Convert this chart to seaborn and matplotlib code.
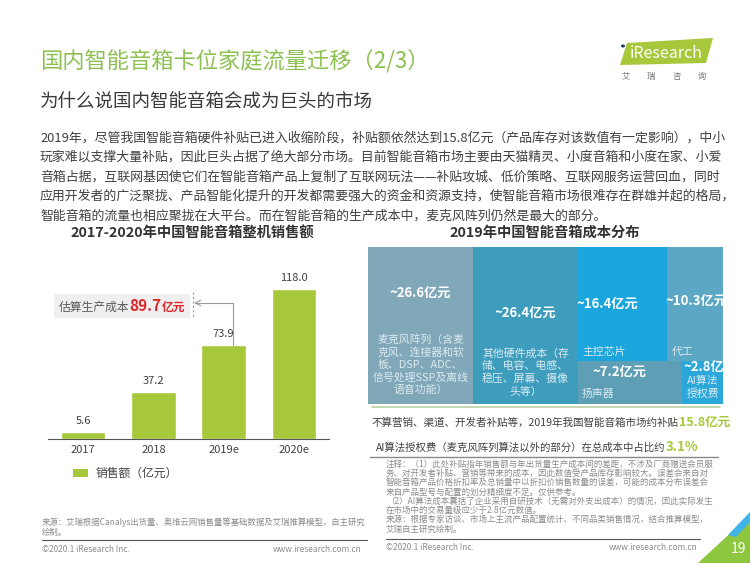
import numpy as np
import pandas as pd
import seaborn as sns
import matplotlib.pyplot as plt
from matplotlib.patches import Rectangle, Polygon

# ---- data ----
years = ["2017", "2018", "2019e", "2020e"]
sales = [5.6, 37.2, 73.9, 118.0]

cost_values = [26.6, 26.4, 16.4, 10.3, 7.2, 2.8]
cost_desc = [
    "麦克风阵列（含麦\n克风、连接器和软\n板、DSP、ADC、\n信号处理SSP及离线\n语音功能）",
    "其他硬件成本（存\n储、电容、电感、\n稳压、屏幕、摄像\n头等）",
    "主控芯片",
    "代工",
    "扬声器",
    "AI算法\n授权费",
]
cost_colors = ["#80a8b9", "#3e9dbd", "#1ba7dd", "#5ba7c4", "#5e9fb6", "#2ba7da"]

production_cost = sum(cost_values)          # 89.7
subsidy = production_cost - sales[2]         # 15.8
ai_share = cost_values[5] / production_cost * 100  # 3.1

paragraph = [
    "2019年，尽管我国智能音箱硬件补贴已进入收缩阶段，补贴额依然达到15.8亿元（产品库存对该数值有一定影响），中小",
    "玩家难以支撑大量补贴，因此巨头占据了绝大部分市场。目前智能音箱市场主要由天猫精灵、小度音箱和小度在家、小爱",
    "音箱占据，互联网基因使它们在智能音箱产品上复制了互联网玩法——补贴攻城、低价策略、互联网服务运营回血，同时",
    "应用开发者的广泛聚拢、产品智能化提升的开发都需要强大的资金和资源支持，使智能音箱市场很难存在群雄并起的格局，",
    "智能音箱的流量也相应聚拢在大平台。而在智能音箱的生产成本中，麦克风阵列仍然是最大的部分。",
]
notes = [
    "注释：（1）此处补贴指年销售额与年出货量生产成本间的差距，不涉及厂商赠送会员服",
    "务、对开发者补贴、营销等带来的成本，因此数值受产品库存影响较大。误差会来自对",
    "智能音箱产品价格折扣率及总销量中以折扣价销售数量的误差，可能的成本分布误差会",
    "来自产品型号与配置的划分精细度不足。仅供参考。",
    "（2）AI算法成本囊括了企业采用自研技术（无需对外支出成本）的情况，因此实际发生",
    "在市场中的交易量级应少于2.8亿元数值。",
    "来源：根据专家访谈、市场上主流产品配置统计、不同品类销售情况，结合推算模型，",
    "艾瑞自主研究绘制。",
]

sns.set_style("white")
plt.rcParams["font.family"] = ["Noto Sans CJK SC", "DejaVu Sans"]

W, H = 750, 563
fig = plt.figure(figsize=(7.5, 5.63), dpi=100)
renderer = fig.canvas.get_renderer()

green = "#8cc152"
lime = "#a6c83a"
dark = "#404040"
grey = "#8c8c8c"


def ftext(x, y, s, **kw):
    return fig.text(x / W, 1 - y / H, s, **kw)


def fline(x0, x1, y, **kw):
    fig.add_artist(plt.Line2D([x0 / W, x1 / W], [1 - y / H, 1 - y / H],
                              transform=fig.transFigure, **kw))


def rich(x, y, parts):
    cur = x
    for s, kw in parts:
        t = ftext(cur, y, s, va="baseline", **kw)
        cur += t.get_window_extent(renderer).width


# ---- header ----
ftext(40, 61, "国内智能音箱卡位家庭流量迁移（2/3）", fontsize=16, color=green, va="center")
ftext(40, 103, "为什么说国内智能音箱会成为巨头的市场", fontsize=13.3, color="#3a3a3a", va="center")

logo = [(627, 43), (713, 38), (706, 63), (620, 65)]
fig.add_artist(Polygon([(px / W, 1 - py / H) for px, py in logo], closed=True,
                       transform=fig.transFigure, color=lime, lw=0))
ftext(666, 53, "iResearch", fontsize=11.5, color="white", ha="center", va="center")
fig.add_artist(plt.Circle((623 / W, 1 - 46 / H), 2 / W, transform=fig.transFigure,
                          color="#1f3a68", lw=0))
for cx, ch in zip(np.linspace(626, 702, 4), "艾瑞咨询"):
    ftext(cx, 76, ch, fontsize=6, color="#777777", ha="center", va="center")

for i, line in enumerate(paragraph):
    ftext(40, 138 + i * 19.5, line, fontsize=9.3, color=dark, va="center")

# ---- left bar chart ----
ftext(192, 233, "2017-2020年中国智能音箱整机销售额", fontsize=10.3, fontweight="bold",
      color="#333333", ha="center", va="center")

ax1 = fig.add_axes([48 / W, 1 - 439 / H, 281 / W, 191 / H])
df = pd.DataFrame({"year": years, "sales": sales})
sns.barplot(data=df, x="year", y="sales", color=lime, saturation=1, width=0.63, ax=ax1)
ax1.set_xlim(-0.5, 3.5)
ax1.set_ylim(0, 150)
ax1.bar_label(ax1.containers[0], fmt="%.1f", padding=4, fontsize=8, color=dark)
sns.despine(ax=ax1, left=True)
ax1.set_yticks([])
ax1.set(xlabel="", ylabel="")
ax1.set_facecolor("none")
ax1.tick_params(axis="x", length=0, labelsize=8, colors=dark, pad=4.5)
ax1.spines["bottom"].set_color("#555555")

# estimated production cost callout
fig.add_artist(Rectangle((54 / W, 1 - 318 / H), 136 / W, 24 / H,
                         transform=fig.transFigure, color="#efefef", lw=0))
fig.add_artist(plt.Line2D([193 / W, 193 / W], [1 - 292 / H, 1 - 318 / H],
                          transform=fig.transFigure, color="#999999", lw=0.8, ls=(0, (2, 2))))
rich(59, 311, [
    ("估算生产成本", dict(fontsize=8.5, color="#595959")),
    (f"{production_cost:.1f}", dict(fontsize=11, color="#e0262b", fontweight="bold")),
    ("亿元", dict(fontsize=8.5, color="#e0262b", fontweight="bold")),
])
ax1.annotate("", xy=(194 / W, 1 - 303 / H), xycoords="figure fraction",
             xytext=(2.13, sales[2]), textcoords="data",
             arrowprops=dict(arrowstyle="->", color="#9a9a9a", lw=0.8, shrinkA=0, shrinkB=0,
                             connectionstyle="angle,angleA=90,angleB=0,rad=0"))

fig.add_artist(Rectangle((73 / W, 1 - 477 / H), 15 / W, 8 / H,
                         transform=fig.transFigure, color=lime, lw=0))
ftext(96, 473, "销售额（亿元）", fontsize=8.5, color=dark, va="center")

# ---- right treemap ----
ftext(545, 233, "2019年中国智能音箱成本分布", fontsize=10.3, fontweight="bold",
      color="#333333", ha="center", va="center")

ax2 = fig.add_axes([368 / W, 1 - 404 / H, 355 / W, 157 / H])
mic, other, chip, oem, spk, ai = cost_values
rest = chip + oem + spk + ai
top_h = (chip + oem) / rest
x_r = mic + other
rects = [
    (0, 0, mic, 1),
    (mic, 0, other, 1),
    (x_r, 0, chip / top_h, top_h),
    (x_r + chip / top_h, 0, oem / top_h, top_h),
    (x_r, top_h, spk / (1 - top_h), 1 - top_h),
    (x_r + spk / (1 - top_h), top_h, ai / (1 - top_h), 1 - top_h),
]
# (value pos x, y, ha), (desc pos x, y, ha)
value_pos = [(0.5, 0.29, "center"), (0.5, 0.42, "center"), (-0.01, 0.50, "left"),
             (-0.02, 0.47, "left"), (0.14, 0.25, "left"), (0.02, 0.14, "left")]
desc_pos = [(0.5, 0.75, "center"), (0.5, 0.80, "center"), (0.05, 0.92, "left"),
            (0.09, 0.92, "left"), (0.04, 0.77, "left"), (0.5, 0.62, "center")]

for (x0, y0, w, h), c, v, d, vp, dp in zip(rects, cost_colors, cost_values, cost_desc,
                                            value_pos, desc_pos):
    ax2.add_patch(Rectangle((x0, y0), w, h, facecolor=c, edgecolor="none"))
    ax2.text(x0 + vp[0] * w, y0 + vp[1] * h, f"~{v:.1f}亿元", ha=vp[2], va="center",
             fontsize=9.5, fontweight="bold", color="white", clip_on=True)
    ax2.text(x0 + dp[0] * w, y0 + dp[1] * h, d, ha=dp[2], va="center", multialignment="center",
             fontsize=7.8, color="#dcebf0", linespacing=1.25, clip_on=True)

ax2.set_xlim(0, production_cost)
ax2.set_ylim(1, 0)
ax2.axis("off")

fline(372, 720, 407, color="#b9d2a2", lw=1.2)
rich(372, 426, [
    ("不算营销、渠道、开发者补贴等，2019年我国智能音箱市场约补贴", dict(fontsize=7.6, color=dark)),
    (f"{subsidy:.1f}亿元", dict(fontsize=9, color=lime, fontweight="bold")),
])
rich(376, 451, [
    ("AI算法授权费（麦克风阵列算法以外的部分）在总成本中占比约", dict(fontsize=7.5, color=dark)),
    (f"{ai_share:.1f}%", dict(fontsize=9.5, color=lime, fontweight="bold")),
])
fline(370, 718, 457, color="#888888", lw=1)

for i, line in enumerate(notes):
    ftext(386, 464 + i * 9.3, line, fontsize=6.1, color=grey, va="center")

# ---- footers ----
ftext(42, 522, "来源：艾瑞根据Canalys出货量、奥维云网销售量等基础数据及艾瑞推算模型，自主研究",
      fontsize=6, color=grey, va="center")
ftext(42, 532, "绘制。", fontsize=6, color=grey, va="center")
fline(42, 367, 540, color="#555555", lw=0.8)
ftext(42, 549, "©2020.1 iResearch Inc.", fontsize=6, color=grey, va="center")
ftext(362, 549, "www.iresearch.com.cn", fontsize=6, color=grey, va="center", ha="right")

fline(386, 700, 539, color="#555555", lw=0.8)
ftext(386, 548, "©2020.1 iResearch Inc.", fontsize=6, color=grey, va="center")
ftext(698, 548, "www.iresearch.com.cn", fontsize=6, color=grey, va="center", ha="right")

corner_green = [(698, 563), (750, 515), (750, 563)]
corner_blue = [(728, 535), (750, 512), (750, 522), (736, 537)]
for pts, col in [(corner_green, "#8dc63f"), (corner_blue, "#3fb3e5")]:
    fig.add_artist(Polygon([(px / W, 1 - py / H) for px, py in pts], closed=True,
                           transform=fig.transFigure, color=col, lw=0))
ftext(739, 549, "19", fontsize=10, color="white", ha="center", va="center")

fig.savefig("out.png", dpi=100, facecolor="white")
